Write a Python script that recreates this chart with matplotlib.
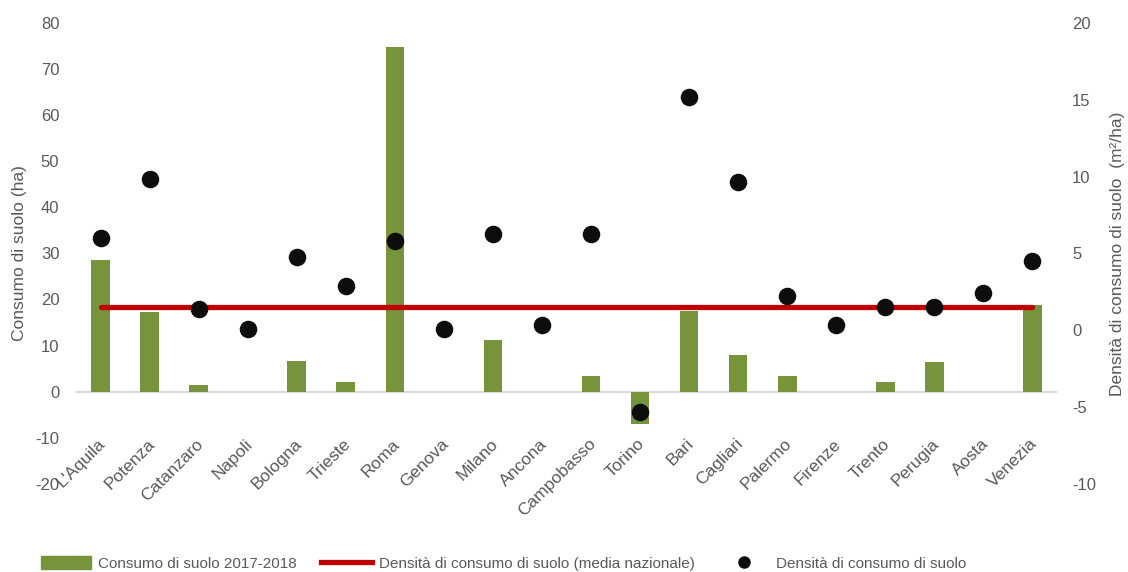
import matplotlib
matplotlib.use("Agg")
import matplotlib.pyplot as plt
from matplotlib.lines import Line2D
from matplotlib.patches import Patch

plt.rcParams['font.family'] = ['Liberation Sans', 'DejaVu Sans']
plt.rcParams['axes.unicode_minus'] = False

cities = ["L'Aquila", "Potenza", "Catanzaro", "Napoli", "Bologna", "Trieste", "Roma",
          "Genova", "Milano", "Ancona", "Campobasso", "Torino", "Bari", "Cagliari",
          "Palermo", "Firenze", "Trento", "Perugia", "Aosta", "Venezia"]
consumo = [28.6, 17.2, 1.4, 0, 6.7, 2.2, 74.7, 0, 11.3, 0, 3.3, -6.9, 17.4, 7.9,
           3.3, 0, 2.2, 6.4, 0, 18.9]
densita = [6.03, 9.87, 1.37, 0.11, 4.77, 2.86, 5.79, 0.05, 6.29, 0.37, 6.29, -5.31,
           15.2, 9.63, 2.21, 0.37, 1.48, 1.48, 2.45, 4.53]
media_nazionale = 1.52

GREEN = '#77933c'
RED = '#c00000'
GRAY = '#595959'

fig = plt.figure(figsize=(11.28, 5.72), dpi=100)
ax = fig.add_axes([0.0674, 0.154, 0.8696, 0.806])
ax2 = ax.twinx()

x = list(range(len(cities)))
ax.bar(x, consumo, width=0.38, color=GREEN, zorder=2)
ax.axhline(0, color='#d9d9d9', lw=1.5, zorder=1)

ax2.plot([x[0], x[-1]], [media_nazionale, media_nazionale], color=RED, lw=3.8,
         solid_capstyle='round', zorder=3)
ax2.scatter(x, densita, s=135, color='#0d0d0d', zorder=4)

ax.set_xlim(-0.5, len(cities) - 0.5)
ax.set_ylim(-20, 80)
ax.set_yticks(range(-20, 81, 10))
ax2.set_ylim(-10, 20)
ax2.set_yticks(range(-10, 21, 5))

for a in (ax, ax2):
    for s in a.spines.values():
        s.set_visible(False)
    a.tick_params(length=0, labelsize=12, labelcolor=GRAY)
ax.tick_params(axis='y', pad=12)
ax2.tick_params(axis='y', pad=11)

# category labels hang just below the zero line, as in Excel
ax.set_xticks([])
for i, c in enumerate(cities):
    ax.annotate(c, xy=(i, 0), xytext=(-2, -32), textcoords='offset points',
                rotation=45, ha='right', va='top', rotation_mode='anchor',
                fontsize=12.5, color=GRAY, zorder=5)

ax.set_ylabel('Consumo di suolo (ha)', fontsize=12.5, color=GRAY, labelpad=6)
ax2.set_ylabel('Densità di consumo di suolo  (m²/ha)', fontsize=12.5, color=GRAY, labelpad=10)

handles = [Patch(color=GREEN),
           Line2D([0], [0], color=RED, lw=3.8),
           Line2D([0], [0], marker='o', color='#0d0d0d', lw=0, markersize=8)]
labels = ['Consumo di suolo 2017-2018', 'Densità di consumo di suolo (media nazionale)',
          'Densità di consumo di suolo']
fig.legend(handles, labels, loc='center left', bbox_to_anchor=(0.024, 0.015), ncol=3,
           frameon=False, fontsize=11, handlelength=3.3, handleheight=0.9,
           columnspacing=1.6, handletextpad=0.45, labelcolor=GRAY)

fig.savefig('out.png', dpi=100)
